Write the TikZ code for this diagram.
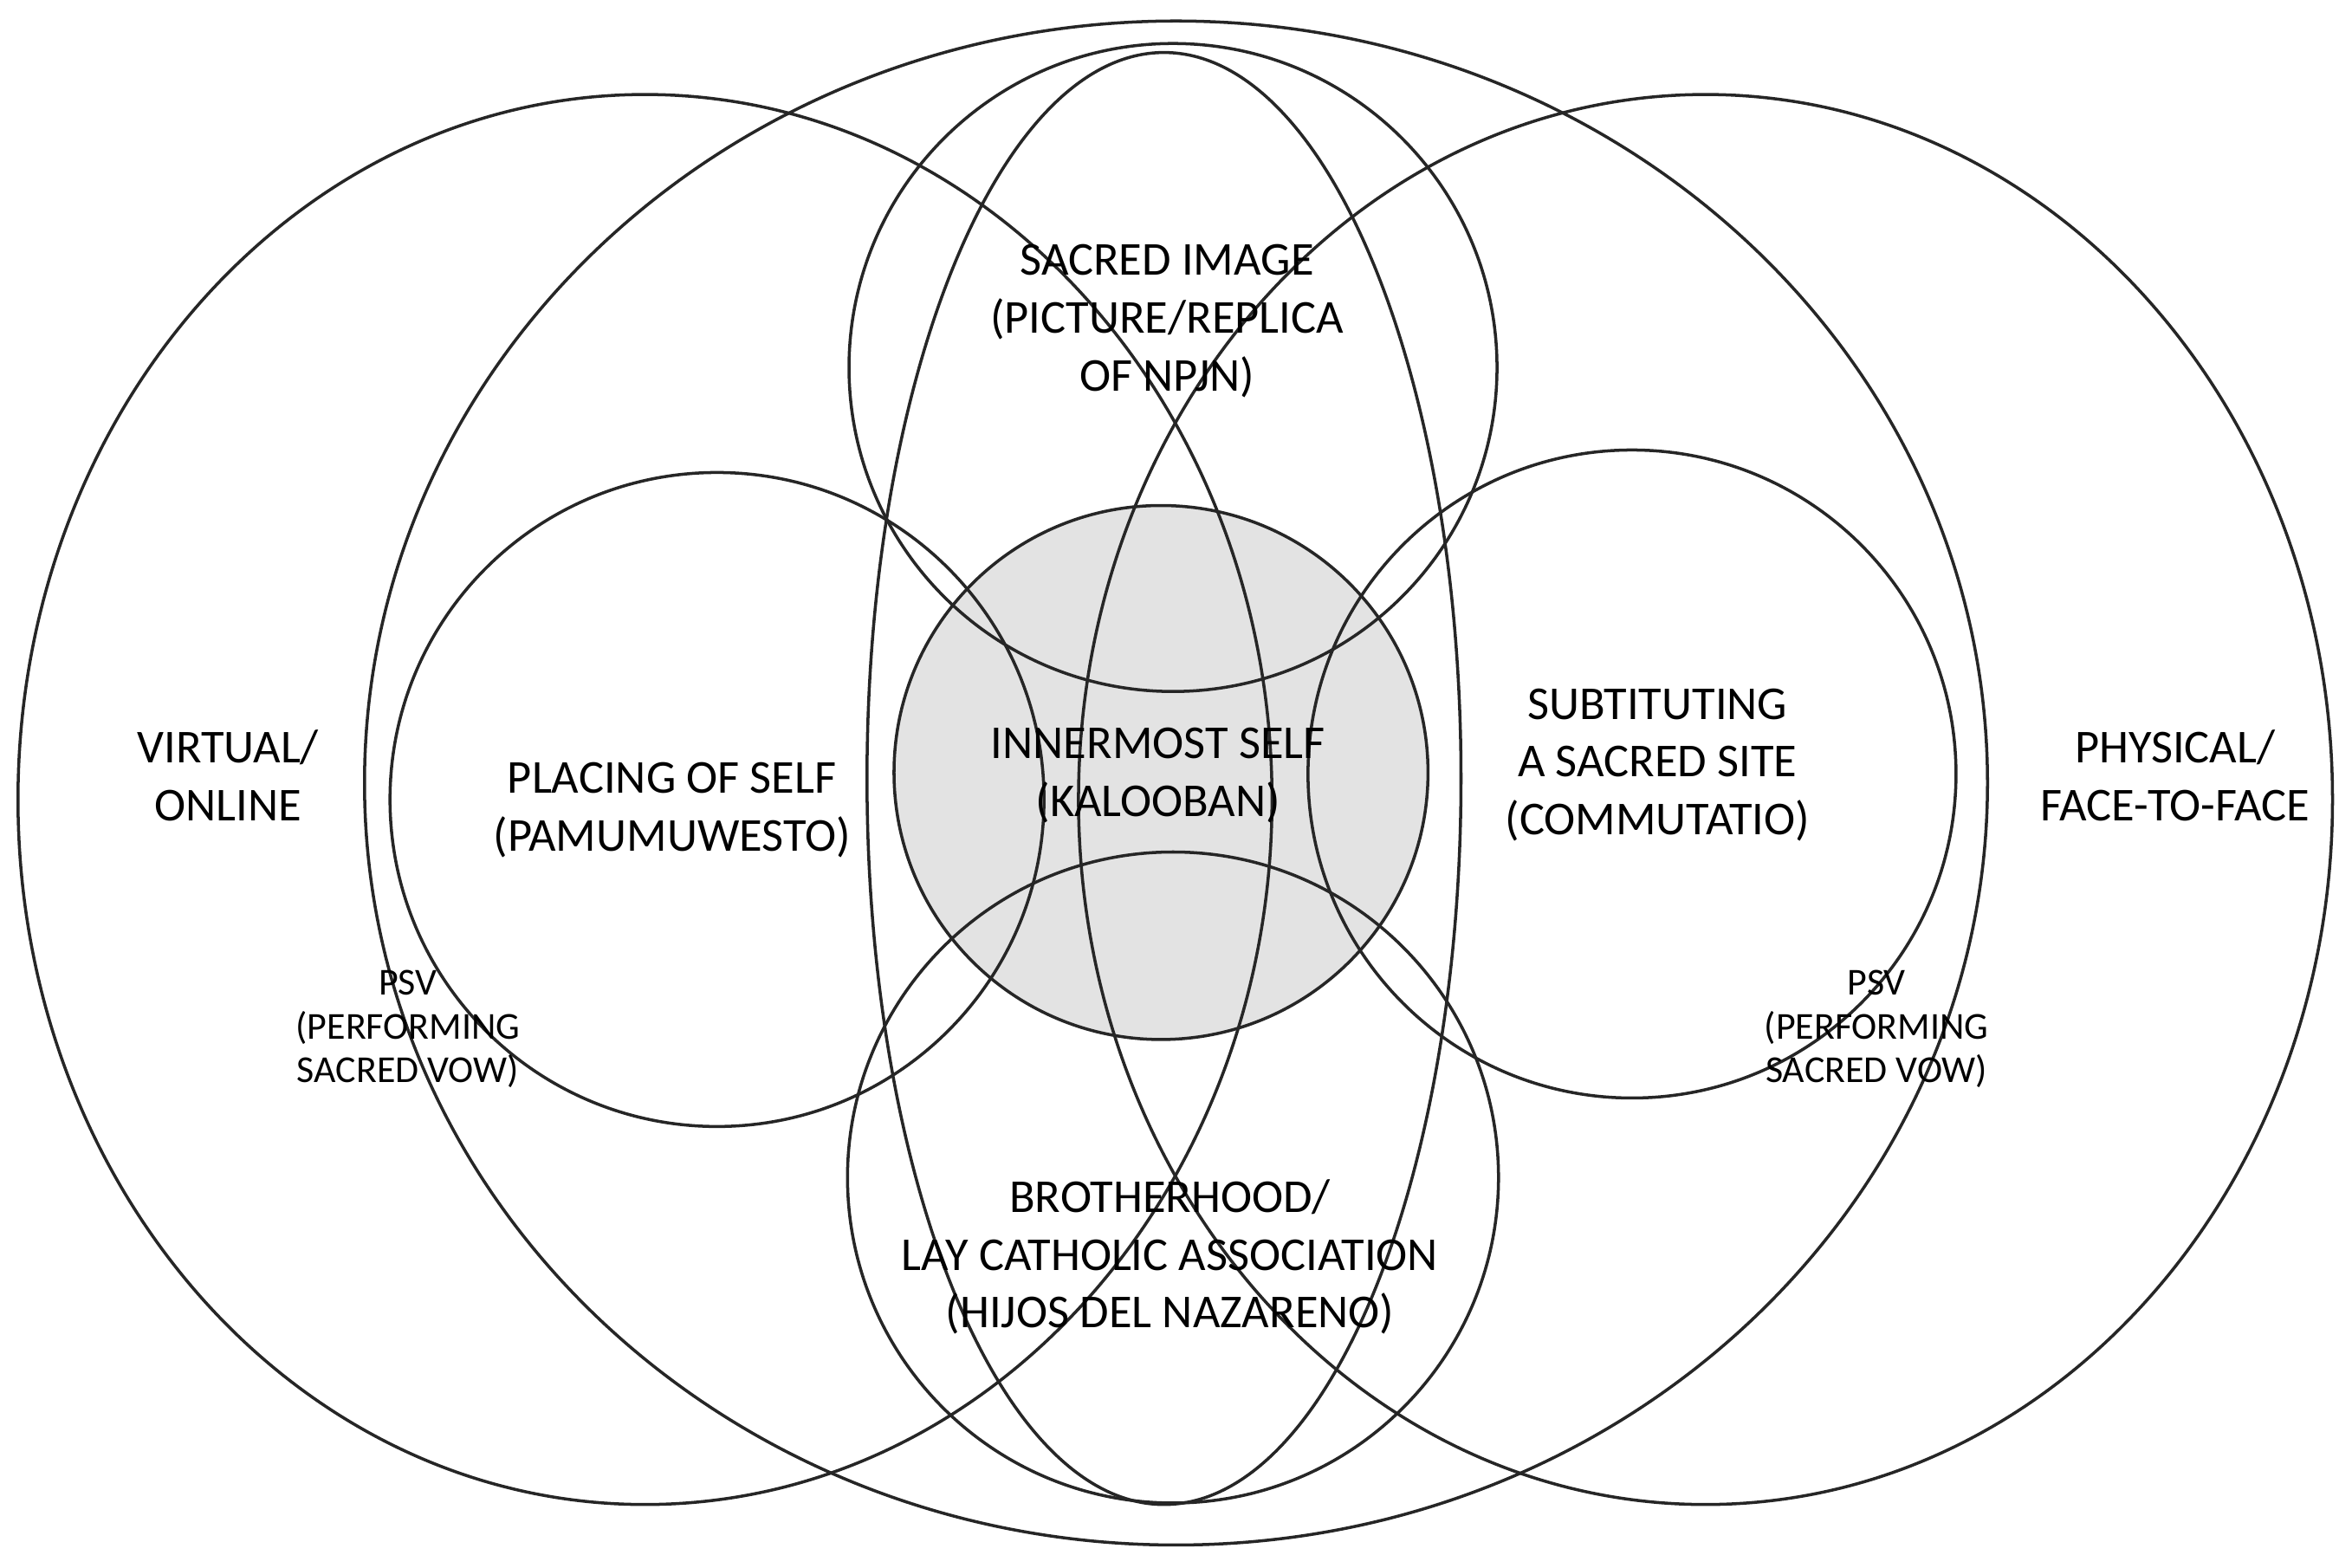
\documentclass[tikz,border=0pt]{standalone}
\usepackage{fontspec}
\setmainfont{Carlito}
\begin{document}
\begin{tikzpicture}[x=0.017315cm,y=-0.017315cm,
  ln/.style={draw=black!85,line width=1pt},
  big/.style={font=\fontsize{15.5}{19}\selectfont,align=center},
  small/.style={font=\fontsize{12.5}{14.5}\selectfont,align=center}]
\useasboundingbox (0,0) rectangle (1568,1045);
\fill[gray!22] (774,515) circle (178);
\draw[ln] (430,533) ellipse (418 and 470);
\draw[ln] (1137,533) ellipse (418 and 470);
\draw[ln] (784,522) ellipse (541 and 508);
\draw[ln] (776,519) ellipse (198 and 484);
\draw[ln] (782,245) circle (216);
\draw[ln] (782,785) circle (217);
\draw[ln] (478,533) circle (218);
\draw[ln] (1088,516) circle (216);
\draw[ln] (774,515) circle (178);
\node[big] (virt) at (152,517) {VIRTUAL/\\ONLINE};
\node[big] (phys) at (1450,517) {PHYSICAL/\\FACE-TO-FACE};
\node[big] (img) at (778,214) {SACRED IMAGE\\(PICTURE/REPLICA\\OF NPJN)};
\node[big] (inner) at (772,517) {INNERMOST SELF\\(KALOOBAN)};
\node[big] (place) at (448,540) {PLACING OF SELF\\(PAMUMUWESTO)};
\node[big] (sub) at (1105,510) {SUBTITUTING\\A SACRED SITE\\(COMMUTATIO)};
\node[big] (bro) at (780,838) {BROTHERHOOD/\\LAY CATHOLIC ASSOCIATION\\(HIJOS DEL NAZARENO)};
\node[small] (psv1) at (272,686) {PSV\\(PERFORMING\\SACRED VOW)};
\node[small] (psv2) at (1251,686) {PSV\\(PERFORMING\\SACRED VOW)};
\end{tikzpicture}
\end{document}
